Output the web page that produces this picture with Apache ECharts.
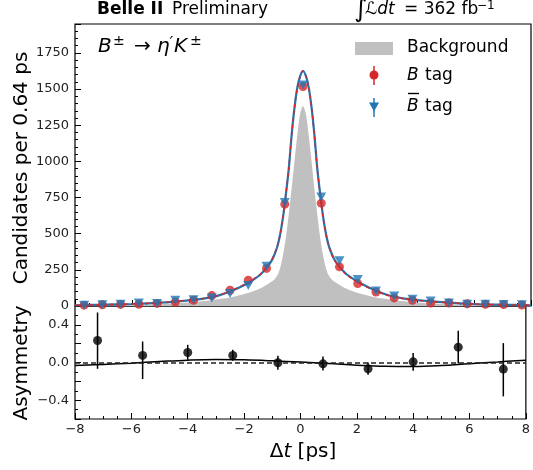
<!DOCTYPE html>
<html><head><meta charset="utf-8">
<script src="https://cdn.jsdelivr.net/npm/echarts@6/dist/echarts.min.js"></script>
<style>html,body{margin:0;padding:0;background:#fff}#c{width:533px;height:470px}</style>
</head><body><div id="c"></div>
<script>
// ---- data ----
const tBins = [-7.68,-7.04,-6.40,-5.76,-5.12,-4.48,-3.84,-3.20,-2.56,-1.92,-1.28,-0.64,0,0.64,1.28,1.92,2.56,3.20,3.84,4.48,5.12,5.76,6.40,7.04,7.68];
const bTag    = [6,9,11,12,18,28,40,72,109,178,260,704,1518,711,271,155,97,56,40,21,21,15,12,10,7];
const bbarTag = [5,9,12,20,18,40,44,56,86,141,275,715,1528,753,313,183,104,70,47,35,20,12,12,10,8];

const fitT    = [-8,-7,-6,-5,-4,-3.5,-3,-2.5,-2,-1.75,-1.5,-1.25,-1.1,-1,-0.9,-0.8,-0.7,-0.6,-0.5,-0.4,-0.3,-0.2,-0.1,0,0.1,0.2,0.3,0.4,0.5,0.6,0.7,0.8,0.9,1,1.1,1.25,1.5,1.75,2,2.5,3,3.5,4,5,6,7,8];
const fitB    = [5,9,14,24,40,52,72,108,155,185,220,275,318,360,415,500,620,775,950,1180,1370,1510,1590,1625,1590,1510,1370,1180,950,775,620,500,415,360,318,275,220,185,155,108,72,52,40,24,14,9,5];
const fitBbar = [5,9,14,23,39,51,70,105,151,181,216,271,314,356,411,496,616,772,948,1178,1368,1509,1590,1625,1591,1512,1373,1184,954,779,625,505,420,365,322,279,225,189,159,111,74,53,41,25,14,9,5];

const bgT = [-8,-6.5,-5.5,-4.5,-3.8,-3.3,-2.8,-2.4,-2,-1.7,-1.4,-1.2,-1,-0.9,-0.8,-0.7,-0.6,-0.5,-0.4,-0.3,-0.2,-0.1,0,0.1,0.2,0.3,0.4,0.5,0.6,0.7,0.8,0.9,1,1.2,1.4,1.7,2,2.4,2.8,3.3,3.8,4.5,5.5,6.5,8];
const bgV = [3,6,10,18,28,38,51,66,86,106,132,155,185,212,265,355,475,635,810,1000,1180,1330,1382,1330,1180,1000,810,635,475,355,265,212,185,155,132,106,86,66,51,38,28,18,10,6,3];

const asymT  = [-7.2,-5.6,-4.0,-2.4,-0.8,0.8,2.4,4.0,5.6,7.2];
const asymV  = [0.234,0.075,0.106,0.075,-0.003,-0.014,-0.067,0.007,0.163,-0.070];
const asymLo = [-0.067,-0.176,0.029,0.018,-0.077,-0.085,-0.130,-0.088,-0.007,-0.360];
const asymHi = [0.531,0.223,0.188,0.135,0.071,0.064,0.000,0.100,0.336,0.206];

const asymFitT = [-8,-7,-6,-5,-4,-3,-2,-1,0,1,2,3,4,5,6,7,8];
const asymFitV = [-0.032,-0.020,-0.007,0.010,0.025,0.032,0.028,0.018,0.005,-0.010,-0.028,-0.040,-0.042,-0.032,-0.012,0.006,0.025];

const mainYTicks = [0,250,500,750,1000,1250,1500,1750];
const xTickLabels = [-8,-6,-4,-2,0,2,4,6,8];

// ---- chart ----
const FF = 'DejaVu Sans';
const RED = '#d62728', BLUE = '#1f77b4', GREY = '#c0c0c0';
const pairs = (xs, ys) => xs.map((x, i) => [x, ys[i]]);
const minus = v => (v < 0 ? '\u2212' + String(-v) : String(v));

function txt(x, y, s, size, opts) {
  opts = opts || {};
  return {
    type: 'text', x: x, y: y, rotation: opts.rotation || 0, z: 100,
    style: {
      text: s, fill: '#000', fontSize: size, fontFamily: FF,
      fontStyle: opts.italic ? 'italic' : 'normal',
      fontWeight: opts.bold ? 'bold' : 'normal',
      align: opts.align || 'left', verticalAlign: opts.va || 'middle',
      rich: opts.rich
    }
  };
}

const chart = echarts.init(document.getElementById('c'), null, { renderer: 'canvas' });

const axisCommon = {
  axisLine: { show: false, onZero: false },
  splitLine: { show: false },
  axisTick: { show: true, inside: true, length: 6, lineStyle: { color: '#000', width: 1 } },
  minorTick: { show: true, length: 3, lineStyle: { color: '#000', width: 1 } }
};

const option = {
  animation: false,
  backgroundColor: '#fff',
  grid: [
    { left: 75, right: 2, top: 24, height: 282, show: true, borderColor: '#000', borderWidth: 1.2, backgroundColor: 'transparent' },
    { left: 75, right: 2, top: 306, height: 113, show: true, borderColor: '#000', borderWidth: 1.2, backgroundColor: 'transparent' }
  ],
  xAxis: [
    Object.assign({}, axisCommon, {
      type: 'value', gridIndex: 0, position: 'bottom', min: xTickLabels[0], max: xTickLabels[xTickLabels.length - 1], interval: 2,
      minorTick: Object.assign({}, axisCommon.minorTick, { splitNumber: 4 }),
      axisLabel: { show: false }
    }),
    Object.assign({}, axisCommon, {
      type: 'value', gridIndex: 1, position: 'bottom', min: xTickLabels[0], max: xTickLabels[xTickLabels.length - 1], interval: 2,
      minorTick: Object.assign({}, axisCommon.minorTick, { splitNumber: 4 }),
      axisLabel: { show: true, fontSize: 13, fontFamily: FF, color: '#222', margin: 4,
        formatter: v => xTickLabels.indexOf(v) >= 0 ? minus(v) : '' }
    })
  ],
  yAxis: [
    Object.assign({}, axisCommon, {
      type: 'value', gridIndex: 0, position: 'left', min: 0, max: 1950, interval: 250,
      minorTick: Object.assign({}, axisCommon.minorTick, { splitNumber: 5 }),
      axisLabel: { show: true, fontSize: 13, fontFamily: FF, color: '#222', margin: 6, showMaxLabel: false,
        formatter: v => mainYTicks.indexOf(v) >= 0 ? String(v) : '' }
    }),
    Object.assign({}, axisCommon, {
      type: 'value', gridIndex: 1, position: 'left', min: -0.6, max: 0.6, interval: 0.2,
      minorTick: Object.assign({}, axisCommon.minorTick, { splitNumber: 2 }),
      axisLabel: { show: true, fontSize: 13, fontFamily: FF, color: '#222', margin: 6,
        showMinLabel: false, showMaxLabel: false,
        formatter: v => {
          const r = Math.round(v * 10) / 10;
          if (Math.abs(r) < 1e-9) return '0.0';
          if (Math.abs(Math.abs(r) - 0.4) < 1e-9) return (r < 0 ? '\u2212' : '') + Math.abs(r).toFixed(1);
          return '';
        } }
    })
  ],
  series: [
    {
      name: 'Background', type: 'line', xAxisIndex: 0, yAxisIndex: 0,
      data: pairs(bgT, bgV), smooth: 0.3, showSymbol: false, symbol: 'none',
      lineStyle: { width: 0 }, areaStyle: { color: GREY, opacity: 1 }, z: 1, silent: true
    },
    {
      name: 'fit Bbar', type: 'line', xAxisIndex: 0, yAxisIndex: 0,
      data: pairs(fitT, fitBbar), smooth: 0.3, symbol: 'none',
      lineStyle: { color: BLUE, width: 2.2 }, z: 2, silent: true
    },
    {
      name: 'fit B', type: 'line', xAxisIndex: 0, yAxisIndex: 0,
      data: pairs(fitT, fitB), smooth: 0.3, symbol: 'none',
      lineStyle: { color: RED, width: 1.4, type: [4, 3] }, z: 3, silent: true
    },
    {
      name: 'B tag', type: 'scatter', xAxisIndex: 0, yAxisIndex: 0,
      data: pairs(tBins, bTag), symbol: 'circle', symbolSize: 9,
      itemStyle: { color: RED }, z: 4
    },
    {
      name: 'Bbar tag', type: 'scatter', xAxisIndex: 0, yAxisIndex: 0,
      data: pairs(tBins, bbarTag), symbol: 'path://M0,0L10,0L5,9Z', symbolSize: [10, 9],
      itemStyle: { color: BLUE }, z: 5
    },
    {
      name: 'asym fit', type: 'line', xAxisIndex: 1, yAxisIndex: 1,
      data: pairs(asymFitT, asymFitV), smooth: 0.4, symbol: 'none',
      lineStyle: { color: '#000', width: 1.5 }, z: 2, silent: true,
      markLine: {
        silent: true, symbol: ['none', 'none'], label: { show: false },
        lineStyle: { color: '#222', width: 1.5, type: [5, 3] },
        data: [{ yAxis: 0 }]
      }
    },
    {
      name: 'asym err', type: 'custom', xAxisIndex: 1, yAxisIndex: 1,
      data: asymT.map((t, i) => [t, asymLo[i], asymHi[i]]),
      encode: { x: 0, y: [1, 2] },
      renderItem: (params, api) => {
        const p1 = api.coord([api.value(0), api.value(1)]);
        const p2 = api.coord([api.value(0), api.value(2)]);
        return { type: 'line', shape: { x1: p1[0], y1: p1[1], x2: p2[0], y2: p2[1] },
          style: { stroke: '#000', lineWidth: 1.5 } };
      },
      z: 3, silent: true
    },
    {
      name: 'asymmetry', type: 'scatter', xAxisIndex: 1, yAxisIndex: 1,
      data: pairs(asymT, asymV), symbol: 'circle', symbolSize: 9,
      itemStyle: { color: '#000' }, z: 4
    }
  ],
  graphic: [
    // header
    txt(97, 10, 'Belle II', 17, { bold: true }),
    txt(172, 10, 'Preliminary', 17),
    txt(354, 10, '\u222B', 25),
    txt(365, 10, '\u2112dt', 17, { italic: true }),
    txt(404, 10, '= 362 fb', 17),
    txt(477, 6, '\u22121', 12),
    // decay title
    txt(98, 47, 'B', 20, { italic: true }),
    txt(113, 41, '\u00B1', 14),
    txt(134, 47, '\u2192', 20),
    txt(157, 47, '\u03B7', 20, { italic: true }),
    txt(169.5, 44, '\u2032', 16, { italic: true }),
    txt(174, 47, 'K', 20, { italic: true }),
    txt(190, 41, '\u00B1', 14),
    // legend
    { type: 'rect', shape: { x: 355, y: 42, width: 38, height: 13 }, style: { fill: GREY }, z: 100 },
    txt(407, 48, 'Background', 17),
    { type: 'line', shape: { x1: 374, y1: 66, x2: 374, y2: 85 }, style: { stroke: RED, lineWidth: 1.5 }, z: 100 },
    { type: 'circle', shape: { cx: 374, cy: 75, r: 4.5 }, style: { fill: RED }, z: 101 },
    txt(407, 76, 'B', 17, { italic: true }),
    txt(425, 76, 'tag', 17),
    { type: 'line', shape: { x1: 374, y1: 98, x2: 374, y2: 117 }, style: { stroke: BLUE, lineWidth: 1.5 }, z: 100 },
    { type: 'polygon', shape: { points: [[369, 102.5], [379, 102.5], [374, 111.5]] }, style: { fill: BLUE }, z: 101 },
    txt(407, 107, 'B', 17, { italic: true }),
    { type: 'line', shape: { x1: 408, y1: 93.5, x2: 419, y2: 93.5 }, style: { stroke: '#000', lineWidth: 1.4 }, z: 100 },
    txt(425, 107, 'tag', 17),
    // axis titles
    txt(22, 168, 'Candidates per 0.64 ps', 20, { rotation: Math.PI / 2, align: 'center' }),
    txt(22, 363, 'Asymmetry', 20, { rotation: Math.PI / 2, align: 'center' }),
    txt(303, 452, 'Δ{i|t} [ps]', 20, { align: 'center',
      rich: { i: { fontStyle: 'italic', fontSize: 20, fontFamily: FF, fill: '#000' } } })
  ]
};
chart.setOption(option);
</script></body></html>
